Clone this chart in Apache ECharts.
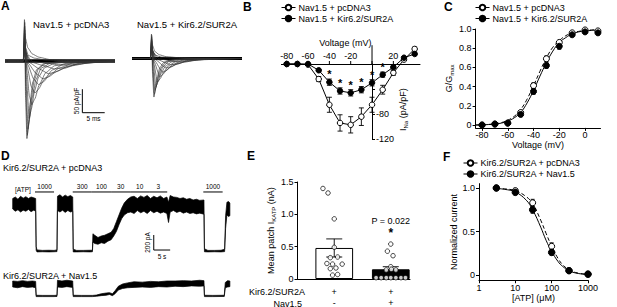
<!DOCTYPE html>
<html>
<head>
<meta charset="utf-8">
<script src="https://cdn.jsdelivr.net/npm/echarts@6/dist/echarts.min.js"></script>
<style>
html,body{margin:0;padding:0;background:#fff;}
#chart{width:617px;height:307px;}
</style>
</head>
<body>
<div id="chart"></div>
<script>
// ================= DATA =================
// Panel A: example Na+ current families, [time (ms), current (pA/pF)]
const aTimeRange = [-4.1, 20.5];
const aCtrlTraces = [
 [[-4.1,0],[0,0],[0.3,82],[0.5,-80],[0.8,-165],[1.1,-140],[1.5,-90],[2.1,-45],[3,-18],[4.5,-6],[8,-1],[20.5,0]],
 [[-4.1,0],[0,0],[0.3,74],[0.55,-60],[0.9,-158],[1.25,-130],[1.7,-85],[2.4,-42],[3.4,-16],[5,-5],[9,-1],[20.5,0]],
 [[-4.1,0],[0,0],[0.3,66],[0.6,-45],[1.05,-145],[1.45,-120],[2,-78],[2.8,-40],[4,-15],[6,-5],[10,-1],[20.5,0]],
 [[-4.1,0],[0,0],[0.3,58],[0.7,-35],[1.3,-122],[1.8,-102],[2.5,-64],[3.4,-34],[4.8,-14],[7,-5],[11,-1],[20.5,0]],
 [[-4.1,0],[0,0],[0.3,50],[0.8,-22],[1.35,-75],[1.9,-93],[2.6,-80],[3.5,-52],[5,-25],[7,-10],[11,-3],[20.5,0]],
 [[-4.1,0],[0,0],[0.3,44],[0.9,-14],[1.8,-55],[2.6,-68],[3.4,-60],[4.6,-40],[6.5,-19],[9,-7],[13,-2],[20.5,0]],
 [[-4.1,0],[0,0],[0.3,38],[1,-8],[2.3,-38],[3.4,-50],[4.4,-45],[6,-29],[8,-15],[11,-5],[15,-1],[20.5,0]],
 [[-4.1,0],[0,0],[0.3,32],[1.1,-5],[2.9,-27],[4.4,-38],[5.6,-34],[7.5,-22],[10,-11],[13,-4],[17,-1],[20.5,0]],
 [[-4.1,0],[0,0],[0.3,27],[1.3,-3],[3.6,-17],[5.6,-27],[7,-24],[9,-16],[12,-7],[15,-3],[20.5,0]],
 [[-4.1,0],[0,0],[0.3,22],[1.6,-2],[4.6,-10],[7,-17],[8.6,-15],[11,-10],[14,-5],[17.5,-2],[20.5,0]],
 [[-4.1,0],[0,0],[0.3,18],[2,-1],[5.5,-5],[8.5,-9],[10.5,-8],[13,-6],[16,-3],[20.5,0]],
 [[-4.1,0],[0,0],[0.25,88],[0.5,48],[1,28],[2,15],[3.5,8],[6,3],[10,1],[20.5,0]],
 [[-4.1,0],[0,0],[0.25,72],[0.5,28],[1.1,12],[2.5,6],[5,2],[10,0.5],[20.5,0]]
];
const aKirTraces = [
 [[-4.1,0],[0,0],[0.3,49],[0.5,-35],[0.8,-82],[1.1,-68],[1.5,-42],[2.1,-20],[3,-8],[4.5,-3],[8,-0.5],[20.5,0]],
 [[-4.1,0],[0,0],[0.3,45],[0.55,-25],[0.9,-76],[1.25,-62],[1.7,-40],[2.4,-20],[3.4,-8],[5,-3],[9,-0.5],[20.5,0]],
 [[-4.1,0],[0,0],[0.3,41],[0.6,-20],[1.0,-68],[1.4,-57],[2,-36],[2.8,-18],[4,-7],[6,-2],[10,-0.5],[20.5,0]],
 [[-4.1,0],[0,0],[0.3,37],[0.7,-15],[1.25,-60],[1.7,-50],[2.4,-32],[3.3,-17],[4.8,-7],[7,-2],[11,-0.5],[20.5,0]],
 [[-4.1,0],[0,0],[0.3,33],[0.8,-12],[1.6,-50],[2.2,-43],[3,-29],[4,-16],[5.6,-7],[8,-2],[12,-0.5],[20.5,0]],
 [[-4.1,0],[0,0],[0.3,29],[0.9,-8],[2.1,-39],[2.8,-34],[3.7,-24],[5,-13],[7,-5],[10,-2],[14,-0.5],[20.5,0]],
 [[-4.1,0],[0,0],[0.3,26],[1,-5],[2.7,-29],[3.5,-26],[4.6,-18],[6.2,-10],[8.5,-4],[12,-1],[20.5,0]],
 [[-4.1,0],[0,0],[0.3,23],[1.2,-3],[3.5,-20],[4.5,-18],[6,-12],[8,-6],[11,-2],[15,-0.5],[20.5,0]],
 [[-4.1,0],[0,0],[0.3,20],[1.5,-2],[4.5,-13],[5.8,-12],[7.5,-8],[10,-4],[13,-1.5],[20.5,0]],
 [[-4.1,0],[0,0],[0.3,17],[2,-1],[6,-7],[7.5,-6.5],[9.5,-4.5],[12,-2.5],[16,-1],[20.5,0]],
 [[-4.1,0],[0,0],[0.25,52],[0.5,28],[1,15],[2,8],[3.5,4],[6,2],[10,0.5],[20.5,0]],
 [[-4.1,0],[0,0],[0.25,40],[0.5,15],[1.1,7],[2.5,3],[5,1],[20.5,0]]
];
const aScaleAmp = 50;   // pA/pF
const aScaleTime = 5;   // ms

// Panel B: I-V relationship
const ivVoltage = [-80,-70,-60,-50,-40,-30,-20,-10,0,10,20,30,40];
const ivCtrl    = [0,0,-1,-24,-65,-94,-97,-84,-65,-41,-14,7,24];
const ivCtrlErr = [0,0,0,4,12,13,13,14,12,7,4,2,3];
const ivKir     = [0,0,0,-10,-29,-43,-46,-41,-30,-17,-5,10,16];
const ivKirErr  = [0,0,0,2,5,5,5,5,5,4,2,2,2];
const ivSignificant = [-40,-30,-20,-10,0,10];
const ivXTicks = [-80,-60,-40,-20,0,20];
const ivXLabels = [-80,-60,-40,-20,20];
const ivYTicks = [-40,-80,-120];
const ivYLabels = [-80,-120];

// Panel C: conductance-voltage
const gvVoltage = [-80,-70,-60,-50,-40,-30,-20,-10,0,10];
const gvCtrl    = [0,0.01,0.02,0.13,0.41,0.69,0.86,0.96,0.99,0.98];
const gvCtrlErr = [0,0,0.01,0.02,0.03,0.03,0.02,0.01,0.01,0.01];
const gvKir     = [0,0.01,0.02,0.11,0.35,0.62,0.82,0.94,0.97,0.96];
const gvKirErr  = [0,0,0.01,0.02,0.03,0.03,0.03,0.02,0.01,0.02];
const gvFitV    = [-85,-80,-75,-70,-65,-60,-55,-50,-45,-40,-35,-30,-25,-20,-15,-10,-5,0,5,10];
const gvFitCtrl = [0,0.003,0.006,0.012,0.025,0.05,0.09,0.16,0.27,0.41,0.56,0.70,0.81,0.88,0.93,0.96,0.975,0.985,0.99,0.993];
const gvFitKir  = [0,0.002,0.005,0.01,0.02,0.04,0.075,0.13,0.23,0.36,0.51,0.65,0.77,0.86,0.91,0.95,0.97,0.98,0.985,0.99];
const gvXTicks = [-80,-60,-40,-20,0];
const gvYTicks = [0,0.2,0.4,0.6,0.8,1.0];

// Panel D: KATP current recordings, time (s), current (pA) envelope [low, high]
const dTopT  = [0,0.8,1.6,2.4,3.2,4.0,4.8,5.6,6.4,7.0,7.15,7.4,9,11,12.6,13.5,13.65,14.4,15.2,16.0,16.8,17.6,18.3,18.45,19.5,21.5,23.5,24.3,24.45,25,26,27,28,29,30,30.8,31.6,32.4,33.2,34,35,36,37,38,39,40,41,42,43,44,45,46,47,47.5,48,49,50,51,52,53,54,55,56,57,58.3,58.45,59.5,61.5,63.5,64.6,64.9,65.3,65.8,66.2];
const dTopLo = [560,530,550,520,545,530,555,525,545,530,10,-12,-10,-12,-10,-8,540,520,545,515,540,520,530,-12,-12,-10,-12,-10,120,100,90,110,100,130,150,200,260,350,430,480,510,520,500,540,510,530,500,540,510,530,505,520,500,380,520,540,515,530,505,520,500,510,495,505,490,-10,-12,-10,-12,-8,300,480,460,470];
const dTopHi = [700,720,690,730,705,725,700,720,710,700,60,15,8,10,8,15,730,750,720,745,725,740,720,25,8,8,10,10,230,210,180,200,210,230,250,300,390,480,570,640,690,720,730,700,735,715,740,700,730,710,735,700,720,650,740,720,715,700,710,690,700,680,690,675,680,30,8,8,10,25,470,650,660,640];
const dBotT  = [0,1.5,3,4.5,6,7.0,7.15,9,12.6,13.5,13.65,15,16.5,18.3,18.45,21,24.3,25.5,27,28.5,29.5,30.4,31.2,32.2,33.5,35,37,39.5,42,44.5,47,49.5,52,54.5,57,58.3,58.45,61,64.5,64.8,65.5,66.2];
const dBotLo = [120,110,125,115,120,110,-8,-8,-8,-6,120,115,125,115,-8,-8,-8,-4,5,10,20,5,30,80,100,110,115,120,115,125,120,130,125,135,130,135,-8,-8,-6,110,120,125];
const dBotHi = [200,195,205,195,200,195,10,8,8,10,210,200,210,200,10,8,8,12,30,40,45,30,70,130,160,175,190,185,195,190,200,200,205,200,210,205,10,8,10,180,205,200];
const atpLabels = ['1000','300','100','30','10','3','1000'];
const atpStart  = [6.8,18.3,24.1,30.0,35.8,41.6,58.1];
const atpEnd    = [12.6,24.1,30.0,35.8,41.6,47.1,64.0];
const dScaleAmp = 200; // pA
const dScaleTime = 5;  // s

// Panel E: mean patch KATP current
const eGroups = ['Kir6.2/SUR2A + pcDNA3','Kir6.2/SUR2A + Nav1.5'];
const eMean = [0.48, 0.15];
const eSem  = [0.14, 0.04];
const ePtsCtrl = [1.40,1.33,0.93,0.49,0.33,0.34,0.24,0.23,0.23,0.17,0.16,0.06,0.07];
const ePtsNav  = [0.54,0.43,0.36,0.19,0.14,0.15,0.14,0.02,0.02,0.02,0.02,0.02,0.02,0.02];
const eRowKir = ['+','+'];
const eRowNav = ['-','+'];
const ePText = 'P = 0.022';
const eYTicks = [0,0.5,1.0,1.5];

// Panel F: ATP dose-response
const atpConc    = [3,10,30,100,300,1000];
const atpCtrl    = [1.0,0.97,0.83,0.33,0.05,0.01];
const atpCtrlErr = [0.01,0.02,0.04,0.04,0.01,0.01];
const atpNav     = [1.0,0.95,0.75,0.26,0.05,0.01];
const atpNavErr  = [0.01,0.02,0.04,0.03,0.01,0.01];
const atpFitConc = [3,5,10,20,30,50,70,100,150,200,300,500,1000];
const atpFitCtrl = [0.995,0.99,0.97,0.90,0.82,0.63,0.48,0.33,0.19,0.12,0.06,0.025,0.007];
const atpFitNav  = [0.995,0.985,0.955,0.86,0.75,0.55,0.40,0.27,0.155,0.10,0.05,0.02,0.006];
const atpXTicks = [1,10,100,1000];
const atpYTicks = [0,0.5,1.0];

// ================= LAYOUT / STYLE =================
const FONT = "'Liberation Sans', Arial, Helvetica, sans-serif";
const BLK = '#000';
const ePtsCtrlJitter = [-0.2,-0.11,0,0,-0.07,0.06,-0.13,-0.03,0.14,0.03,-0.07,-0.03,0.06];
const ePtsNavJitter  = [0,-0.06,0.04,0,-0.08,0.01,0.09,-0.26,-0.17,-0.08,0,0.09,0.18,0.26];
const aBarAnchor = [13.2, -110];
const dBarAnchor = [43.0, 13];
const atpBarLevel = 787;
const ePTextLevel = 0.9, eStarLevel = 0.71;

// B grid: x-axis sits on the grid top (current = 0); y-axis at V = 0
const B = {left:281.4, top:64, width:138.6, height:75.25, xMin:-85, xMax:45, yMin:-120, yMax:0};
const bYAxisTop = 30;     // y-axis line continues above the x-axis up to this current value
const bNameCenterV = -25; // horizontal centre of the "Voltage (mV)" title
const bZeroX = B.left + (0 - B.xMin) / (B.xMax - B.xMin) * B.width;

const grid = (left, top, width, height) => ({left, top, width, height, containLabel:false, outerBoundsMode:'none'});
const txt = (size, extra) => Object.assign({fontFamily:FONT, fontSize:size, color:BLK}, extra||{});
const hiddenAxis = (gi, min, max, type) => ({gridIndex:gi, type:type||'value', min, max, show:false});

function errSeries(gi, xs, ys, es, cap, z){
  return {type:'custom', xAxisIndex:gi, yAxisIndex:gi, z:z||3, clip:false, silent:true,
    data: xs.map((x,i)=>[x, ys[i], es[i]]), encode:{x:0, y:1},
    renderItem:(p, api)=>{
      const x=api.value(0), y=api.value(1), e=api.value(2);
      if(!e) return null;
      const a=api.coord([x,y+e]), b=api.coord([x,y-e]);
      const st={stroke:BLK, lineWidth:0.9};
      return {type:'group', children:[
        {type:'line', shape:{x1:a[0],y1:a[1],x2:b[0],y2:b[1]}, style:st},
        {type:'line', shape:{x1:a[0]-cap/2,y1:a[1],x2:a[0]+cap/2,y2:a[1]}, style:st},
        {type:'line', shape:{x1:b[0]-cap/2,y1:b[1],x2:b[0]+cap/2,y2:b[1]}, style:st}]};
    }};
}
function bandSeries(gi, t, lo, hi){
  const data = t.map((x,i)=>[x, lo[i], hi[i]]);
  return {type:'custom', xAxisIndex:gi, yAxisIndex:gi, clip:false, silent:true, data, encode:{x:0, y:[1,2]},
    renderItem:(p, api)=>{
      if(p.dataIndex!==0) return null;
      const pts=[];
      for(let i=0;i<data.length;i++) pts.push(api.coord([data[i][0], data[i][2]]));
      for(let i=data.length-1;i>=0;i--) pts.push(api.coord([data[i][0], data[i][1]]));
      return {type:'polygon', shape:{points:pts}, style:{fill:BLK, stroke:BLK, lineWidth:0.7}};
    }};
}
function scaleBar(gi, anchor, amp, time, ampLabel, timeLabel){
  return {type:'custom', xAxisIndex:gi, yAxisIndex:gi, clip:false, silent:true, data:[anchor],
    renderItem:(p, api)=>{
      const o=api.coord(anchor), tp=api.coord([anchor[0], anchor[1]+amp]), r=api.coord([anchor[0]+time, anchor[1]]);
      const st={stroke:BLK, lineWidth:1};
      return {type:'group', children:[
        {type:'line', shape:{x1:o[0],y1:o[1],x2:tp[0],y2:tp[1]}, style:st},
        {type:'line', shape:{x1:o[0],y1:o[1],x2:r[0],y2:r[1]}, style:st},
        {type:'text', x:o[0]-2.5, y:(o[1]+tp[1])/2, rotation:Math.PI/2,
          style:{text:ampLabel, fontFamily:FONT, fontSize:6.5, fill:BLK, align:'center', verticalAlign:'bottom'}},
        {type:'text', x:(o[0]+r[0])/2, y:o[1]+2.5,
          style:{text:timeLabel, fontFamily:FONT, fontSize:6.5, fill:BLK, align:'center', verticalAlign:'top'}}]};
    }};
}
const traceLine = (gi, d) => ({type:'line', xAxisIndex:gi, yAxisIndex:gi, data:d, symbol:'none', smooth:0.15,
  smoothMonotone:'x', lineStyle:{color:'#333', width:0.65}, silent:true, z:3});

const axisLine = {lineStyle:{color:BLK, width:1}};
const axisTick = (vals, extra) => Object.assign({show:true, customValues:vals, length:3, lineStyle:{color:BLK, width:1}}, extra||{});

const series = [];
// ---- A
aCtrlTraces.forEach(tr => series.push(traceLine(0, tr)));
aKirTraces.forEach(tr => series.push(traceLine(1, tr)));
series.push({type:'line', xAxisIndex:0, yAxisIndex:0, data:[[aTimeRange[0],0],[aTimeRange[1],0]], symbol:'none', lineStyle:{color:BLK, width:3.5}, z:2, silent:true});
series.push({type:'line', xAxisIndex:1, yAxisIndex:1, data:[[aTimeRange[0],0],[aTimeRange[1],0]], symbol:'none', lineStyle:{color:BLK, width:2.8}, z:2, silent:true});
series.push(scaleBar(0, aBarAnchor, aScaleAmp, aScaleTime, aScaleAmp + ' pA/pF', aScaleTime + ' ms'));
// ---- B
// y-axis extension above the x-axis
series.push({type:'custom', xAxisIndex:2, yAxisIndex:2, clip:false, silent:true, z:1, data:[[0, 0]],
  renderItem:(p, api)=>{ const a=api.coord([0, 0]), b=api.coord([0, bYAxisTop]);
    return {type:'line', shape:{x1:a[0],y1:a[1],x2:b[0],y2:b[1]}, style:{stroke:BLK, lineWidth:1}}; }});
// x-axis ticks, tick labels and title, laid out through the axis scale (labels above the line)
series.push({type:'custom', xAxisIndex:2, yAxisIndex:2, clip:false, silent:true, z:1, data:ivXTicks.map(v=>[v, 0]),
  renderItem:(p, api)=>{ const v=api.value(0), c=api.coord([v, 0]);
    const kids=[{type:'line', shape:{x1:c[0],y1:c[1],x2:c[0],y2:c[1]-3}, style:{stroke:BLK, lineWidth:1}}];
    if (ivXLabels.indexOf(v) >= 0) kids.push({type:'text', x:c[0], y:c[1]-3.5,
      style:{text:String(v), fontFamily:FONT, fontSize:9, fill:BLK, align:'center', verticalAlign:'bottom'}});
    return {type:'group', children:kids}; }});
series.push({type:'custom', xAxisIndex:2, yAxisIndex:2, clip:false, silent:true, z:1, data:[[bNameCenterV, 0]],
  renderItem:(p, api)=>{ const c=api.coord([bNameCenterV, 0]);
    return {type:'text', x:c[0], y:c[1]-16.5, style:{text:'Voltage (mV)', fontFamily:FONT, fontSize:9, fill:BLK, align:'center', verticalAlign:'bottom'}}; }});
series.push(errSeries(2, ivVoltage, ivCtrl, ivCtrlErr, 5, 3));
series.push(errSeries(2, ivVoltage, ivKir, ivKirErr, 5, 3));
series.push({name:'Nav1.5 + pcDNA3', type:'line', xAxisIndex:2, yAxisIndex:2, clip:false, data:ivVoltage.map((v,i)=>[v, ivCtrl[i]]),
  symbol:'circle', symbolSize:5.5, itemStyle:{color:'#fff', borderColor:BLK, borderWidth:1}, lineStyle:{color:BLK, width:1}, z:4});
series.push({name:'Nav1.5 + Kir6.2/SUR2A', type:'line', xAxisIndex:2, yAxisIndex:2, clip:false, data:ivVoltage.map((v,i)=>[v, ivKir[i]]),
  symbol:'circle', symbolSize:5.5, itemStyle:{color:BLK, borderColor:BLK, borderWidth:1}, lineStyle:{color:BLK, width:1}, z:5});
series.push({type:'custom', xAxisIndex:2, yAxisIndex:2, clip:false, silent:true, z:6,
  data: ivSignificant.map(v => [v, ivKir[ivVoltage.indexOf(v)]]),
  renderItem:(p, api)=>{ const c=api.coord([api.value(0), api.value(1)]);
    return {type:'text', x:c[0], y:c[1]-8, style:{text:'*', fontFamily:FONT, fontSize:11, fontWeight:'bold', fill:BLK, align:'center', verticalAlign:'middle'}}; }});
// ---- C
series.push({type:'line', xAxisIndex:3, yAxisIndex:3, data:gvFitV.map((v,i)=>[v, gvFitCtrl[i]]), symbol:'none', smooth:0.4,
  lineStyle:{color:BLK, width:1, type:[4,2.5]}, z:2, silent:true});
series.push({type:'line', xAxisIndex:3, yAxisIndex:3, data:gvFitV.map((v,i)=>[v, gvFitKir[i]]), symbol:'none', smooth:0.4,
  lineStyle:{color:BLK, width:1}, z:2, silent:true});
series.push(errSeries(3, gvVoltage, gvCtrl, gvCtrlErr, 4, 3));
series.push(errSeries(3, gvVoltage, gvKir, gvKirErr, 4, 3));
series.push({name:'Nav1.5 + pcDNA3', type:'line', xAxisIndex:3, yAxisIndex:3, data:gvVoltage.map((v,i)=>[v, gvCtrl[i]]),
  symbol:'circle', symbolSize:6, itemStyle:{color:'#fff', borderColor:BLK, borderWidth:1}, lineStyle:{width:0}, z:4});
series.push({name:'Nav1.5 + Kir6.2/SUR2A', type:'line', xAxisIndex:3, yAxisIndex:3, data:gvVoltage.map((v,i)=>[v, gvKir[i]]),
  symbol:'circle', symbolSize:6, itemStyle:{color:BLK, borderColor:BLK, borderWidth:1}, lineStyle:{width:0}, z:5});
// ---- D
series.push(bandSeries(4, dTopT, dTopLo, dTopHi));
series.push(bandSeries(5, dBotT, dBotLo, dBotHi));
series.push(scaleBar(4, dBarAnchor, dScaleAmp, dScaleTime, dScaleAmp + ' pA', dScaleTime + ' s'));
series.push({type:'custom', xAxisIndex:4, yAxisIndex:4, clip:false, silent:true,
  data: atpLabels.map((l,i)=>[atpStart[i], atpEnd[i], i]),
  renderItem:(p, api)=>{ const i=api.value(2);
    const a=api.coord([api.value(0), atpBarLevel]), b=api.coord([api.value(1), atpBarLevel]);
    return {type:'group', children:[
      {type:'line', shape:{x1:a[0],y1:a[1],x2:b[0],y2:b[1]}, style:{stroke:BLK, lineWidth:1}},
      {type:'text', x:(a[0]+b[0])/2, y:a[1]-1.5, style:{text:atpLabels[i], fontFamily:FONT, fontSize:6.5, fill:BLK, align:'center', verticalAlign:'bottom'}}]}; }});
// ---- E
series.push({type:'bar', xAxisIndex:6, yAxisIndex:6, barWidth:37.7, z:2, silent:true,
  data: eMean.map((m,i)=>({value:[i, m], itemStyle:{color: i===0 ? '#fff' : BLK, borderColor:BLK, borderWidth:1}}))});
series.push(errSeries(6, [0,1], eMean, eSem, 16, 3));
series.push({type:'scatter', xAxisIndex:6, yAxisIndex:6, z:5, silent:true, symbol:'circle', symbolSize:4.5,
  itemStyle:{color:'#fff', borderColor:BLK, borderWidth:0.9},
  data: ePtsCtrl.map((v,i)=>[0+ePtsCtrlJitter[i], v]).concat(ePtsNav.map((v,i)=>[1+ePtsNavJitter[i], v]))});
series.push({type:'custom', xAxisIndex:6, yAxisIndex:6, clip:false, silent:true, z:6, data:[[1, ePTextLevel]],
  renderItem:(p, api)=>{ const c=api.coord([1, ePTextLevel]), s=api.coord([1, eStarLevel]);
    return {type:'group', children:[
      {type:'text', x:c[0], y:c[1], style:{text:ePText, fontFamily:FONT, fontSize:9, fill:BLK, align:'center', verticalAlign:'middle'}},
      {type:'text', x:s[0], y:s[1], style:{text:'*', fontFamily:FONT, fontSize:12, fontWeight:'bold', fill:BLK, align:'center', verticalAlign:'middle'}}]}; }});
// ---- F
series.push({type:'line', xAxisIndex:7, yAxisIndex:7, data:atpFitConc.map((c,i)=>[c, atpFitCtrl[i]]), symbol:'none', smooth:0.4,
  lineStyle:{color:BLK, width:1, type:[4,2.5]}, z:2, silent:true});
series.push({type:'line', xAxisIndex:7, yAxisIndex:7, data:atpFitConc.map((c,i)=>[c, atpFitNav[i]]), symbol:'none', smooth:0.4,
  lineStyle:{color:BLK, width:1}, z:2, silent:true});
series.push(errSeries(7, atpConc, atpCtrl, atpCtrlErr, 4, 3));
series.push(errSeries(7, atpConc, atpNav, atpNavErr, 4, 3));
series.push({name:'Kir6.2/SUR2A + pcDNA3', type:'line', xAxisIndex:7, yAxisIndex:7, data:atpConc.map((c,i)=>[c, atpCtrl[i]]),
  symbol:'circle', symbolSize:6, itemStyle:{color:'#fff', borderColor:BLK, borderWidth:1}, lineStyle:{width:0}, z:4});
series.push({name:'Kir6.2/SUR2A + Nav1.5', type:'line', xAxisIndex:7, yAxisIndex:7, data:atpConc.map((c,i)=>[c, atpNav[i]]),
  symbol:'circle', symbolSize:6.5, itemStyle:{color:BLK, borderColor:BLK, borderWidth:1}, lineStyle:{width:0}, z:5});

const fmt1 = v => (v === 0 ? '0' : v.toFixed(1));
const subRich = {a:{fontFamily:FONT, fontSize:9, color:BLK, lineHeight:12}, s:{fontFamily:FONT, fontSize:6, color:BLK, verticalAlign:'bottom', lineHeight:9}};

const legendBase = {orient:'vertical', itemGap:2, itemWidth:14, itemHeight:7, padding:0, selectedMode:false,
  textStyle:txt(9, {padding:[0,0,0,-2], lineHeight:9}), lineStyle:{width:1, color:BLK}};

const letter = (t, left, top) => ({text:t, left, top, padding:0, textStyle:txt(12, {fontWeight:'bold'})});
const label = (t, left, top, size) => ({text:t, left, top, padding:0, textStyle:txt(size||9, {fontWeight:'normal'})});

const option = {
  animation:false,
  backgroundColor:'#fff',
  title:[
    letter('A',1,0), letter('B',243,1), letter('C',444,1), letter('D',1,150), letter('E',247,150), letter('F',443,151),
    label('Nav1.5 + pcDNA3',33,19,9.5), label('Nav1.5 + Kir6.2/SUR2A',137,19,9.5),
    label('Kir6.2/SUR2A + pcDNA3',3,163,9), label('Kir6.2/SUR2A + Nav1.5',3,271,9)
  ],
  legend:[
    Object.assign({}, legendBase, {left:281, top:3, data:['Nav1.5 + pcDNA3','Nav1.5 + Kir6.2/SUR2A']}),
    Object.assign({}, legendBase, {left:475, top:3, data:['Nav1.5 + pcDNA3','Nav1.5 + Kir6.2/SUR2A']}),
    Object.assign({}, legendBase, {left:463, top:158.5, data:['Kir6.2/SUR2A + pcDNA3','Kir6.2/SUR2A + Nav1.5']})
  ],
  grid:[
    grid(5, 16.35, 110, 129.25),
    grid(132, 13.85, 110, 129.25),
    grid(B.left, B.top, B.width, B.height),
    grid(475.6, 29, 124.9, 98.9),
    grid(12.7, 191, 217.5, 67.5),
    grid(12.7, 273.5, 217.5, 30),
    grid(297.5, 182, 112.5, 97),
    grid(479, 183.65, 109, 96.6)
  ],
  xAxis:[
    hiddenAxis(0, aTimeRange[0], aTimeRange[1]),
    hiddenAxis(1, aTimeRange[0], aTimeRange[1]),
    {gridIndex:2, type:'value', min:B.xMin, max:B.xMax, position:'top',
      axisLine:Object.assign({onZero:false}, axisLine),
      axisTick:{show:false}, axisLabel:{show:false}, splitLine:{show:false}},
    {gridIndex:3, type:'value', min:-85, max:12, axisLine:Object.assign({onZero:false}, axisLine),
      axisTick:axisTick(gvXTicks), splitLine:{show:false},
      axisLabel:{customValues:gvXTicks, margin:3, fontFamily:FONT, fontSize:9, color:BLK},
      name:'Voltage (mV)', nameLocation:'middle', nameGap:12, nameTextStyle:txt(9)},
    hiddenAxis(4, 0, 66.3),
    hiddenAxis(5, 0, 66.3),
    {gridIndex:6, type:'value', min:-0.65, max:1.34, axisLine:Object.assign({onZero:false}, axisLine),
      axisTick:{show:false}, splitLine:{show:false},
      axisLabel:{customValues:[0,1], formatter:v=> eRowKir[Math.round(v)] + '\n' + eRowNav[Math.round(v)],
        margin:7, lineHeight:11.5, fontFamily:FONT, fontSize:9, color:BLK}},
    {gridIndex:7, type:'log', logBase:10, min:1, max:1000, axisLine:Object.assign({onZero:false}, axisLine),
      axisTick:axisTick(atpXTicks), splitLine:{show:false}, minorTick:{show:false},
      axisLabel:{customValues:atpXTicks, formatter:v=> String(Math.round(v)), margin:3.5, fontFamily:FONT, fontSize:9, color:BLK},
      name:'[ATP] (\u03bcM)', nameLocation:'middle', nameGap:12, nameTextStyle:txt(9)}
  ],
  yAxis:[
    hiddenAxis(0, -180, 95),
    hiddenAxis(1, -180, 95),
    {gridIndex:2, type:'value', min:B.yMin, max:B.yMax, position:'right', offset:-(B.left + B.width - bZeroX),
      axisLine:Object.assign({onZero:false}, axisLine),
      axisTick:axisTick(ivYTicks), splitLine:{show:false},
      axisLabel:{customValues:ivYLabels, margin:4, fontFamily:FONT, fontSize:9, color:BLK},
      name:'{a|I}{s|Na}{a| (pA/pF)}', nameLocation:'middle', nameGap:25, nameRotate:90,
      nameTextStyle:{rich:subRich, padding:[0,16,0,0]}},
    {gridIndex:3, type:'value', min:-0.03, max:1.0, axisLine:Object.assign({onZero:false}, axisLine),
      axisTick:axisTick(gvYTicks), splitLine:{show:false},
      axisLabel:{customValues:gvYTicks, formatter:fmt1, margin:4, fontFamily:FONT, fontSize:9, color:BLK},
      name:'{a|G/G}{s|max}', nameLocation:'middle', nameGap:21, nameRotate:90, nameTextStyle:{rich:subRich}},
    hiddenAxis(4, -100, 800),
    hiddenAxis(5, -100, 300),
    {gridIndex:6, type:'value', min:0, max:1.5, axisLine:Object.assign({onZero:false}, axisLine),
      axisTick:axisTick(eYTicks), splitLine:{show:false},
      axisLabel:{customValues:eYTicks, formatter:fmt1, margin:4, fontFamily:FONT, fontSize:9, color:BLK},
      name:'{a|Mean patch I}{s|KATP}{a| (nA)}', nameLocation:'middle', nameGap:19, nameRotate:90, nameTextStyle:{rich:subRich}},
    {gridIndex:7, type:'value', min:-0.06, max:1.05, axisLine:Object.assign({onZero:false}, axisLine),
      axisTick:axisTick(atpYTicks), splitLine:{show:false},
      axisLabel:{customValues:atpYTicks, formatter:fmt1, margin:4, fontFamily:FONT, fontSize:9, color:BLK},
      name:'Normalized current', nameLocation:'middle', nameGap:20, nameRotate:90, nameTextStyle:txt(9)}
  ],
  graphic:[
    {type:'text', x:305, y:292, silent:true, style:{text:'Kir6.2/SUR2A', fontFamily:FONT, fontSize:9, fill:BLK, align:'right', verticalAlign:'middle'}},
    {type:'text', x:302, y:303.5, silent:true, style:{text:'Nav1.5', fontFamily:FONT, fontSize:9, fill:BLK, align:'right', verticalAlign:'middle'}},
    {type:'text', x:15, y:189.5, silent:true, style:{text:'[ATP]', fontFamily:FONT, fontSize:6.5, fill:BLK, align:'left', verticalAlign:'middle'}}
  ],
  series
};

const chart = echarts.init(document.getElementById('chart'), null, {renderer:'svg', width:617, height:307});
chart.setOption(option);
</script>
</body>
</html>
